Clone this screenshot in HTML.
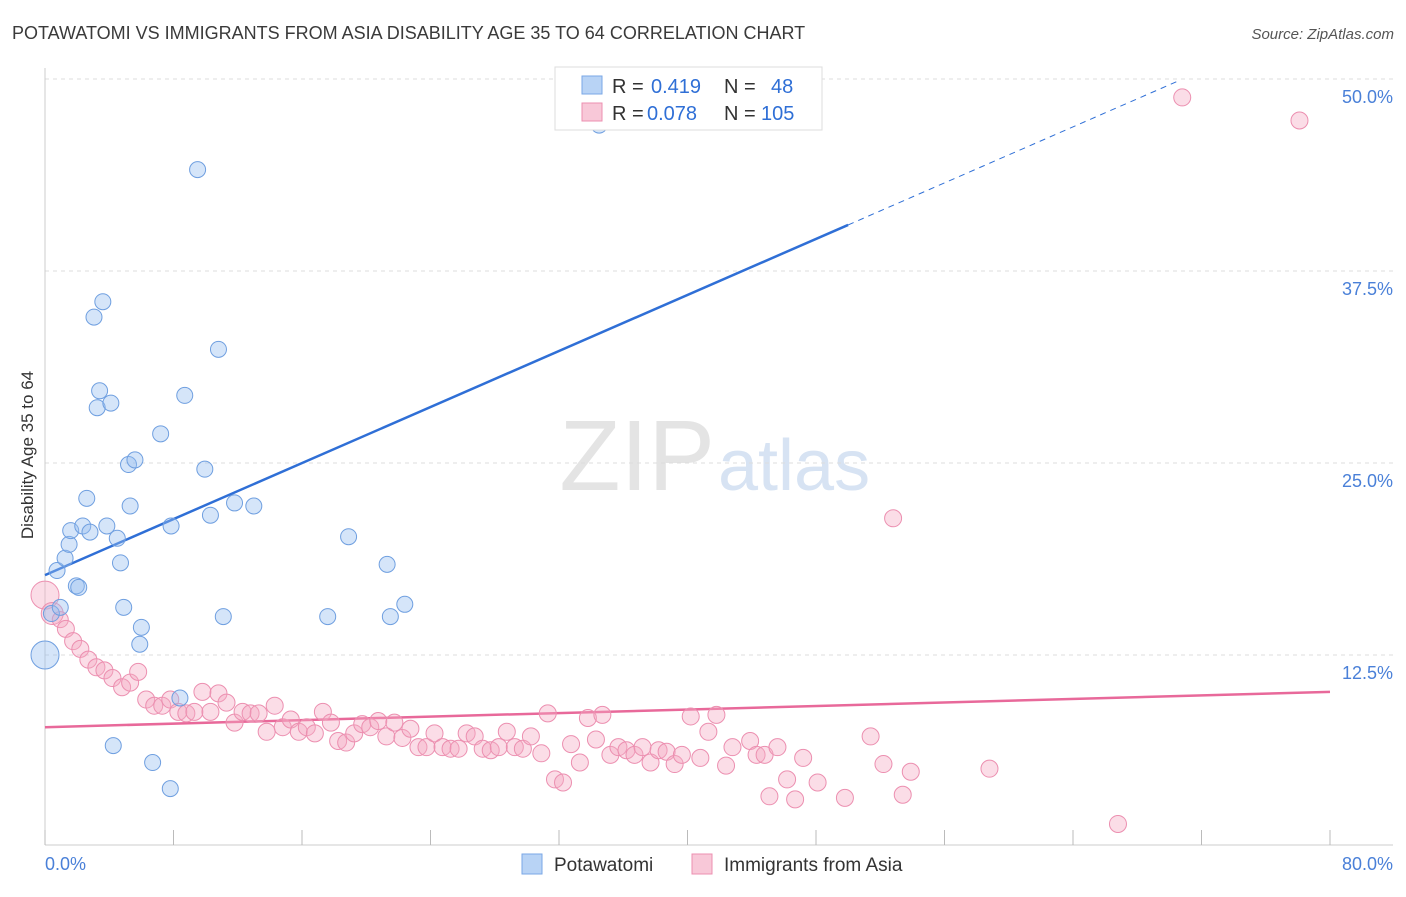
<!DOCTYPE html>
<html><head><meta charset="utf-8"><style>
body{margin:0;background:#fff;font-family:"Liberation Sans",sans-serif}
svg text{font-family:"Liberation Sans",sans-serif}
</style></head><body>
<svg width="1406" height="892" viewBox="0 0 1406 892">
<text x="12" y="39" font-size="18" fill="#3a3a3a">POTAWATOMI VS IMMIGRANTS FROM ASIA DISABILITY AGE 35 TO 64 CORRELATION CHART</text>
<text x="1394" y="39" font-size="15" fill="#555" text-anchor="end" font-style="italic">Source: ZipAtlas.com</text>
<text x="715" y="490" font-size="100" fill="#e4e4e4" text-anchor="end" font-family="Liberation Serif">ZIP</text>
<text x="718" y="490" font-size="72" fill="#d7e3f3">atlas</text>
<g id="grid"></g>
<g id="axes"></g>
<text x="33" y="455" font-size="17" fill="#333" text-anchor="middle" transform="rotate(-90 33 455)">Disability Age 35 to 64</text>
<g id="trend"></g>
<g id="pts"></g>
<g>
<rect x="555" y="67" width="267" height="63" fill="#fff" stroke="#ddd"/>
<rect x="582" y="76" width="20" height="18" fill="#b8d3f5" stroke="#7aa7e6"/>
<text x="612" y="93" font-size="20" fill="#333">R = </text><text x="651" y="93" font-size="20" fill="#2f6fd6">0.419</text>
<text x="724" y="93" font-size="20" fill="#333">N = </text><text x="771" y="93" font-size="20" fill="#2f6fd6">48</text>
<rect x="582" y="103" width="20" height="18" fill="#f8c8d8" stroke="#ec8fb0"/>
<text x="612" y="120" font-size="20" fill="#333">R = </text><text x="647" y="120" font-size="20" fill="#2f6fd6">0.078</text>
<text x="724" y="120" font-size="20" fill="#333">N = </text><text x="761" y="120" font-size="20" fill="#2f6fd6">105</text>
</g>
<g>
<rect x="522" y="854" width="20" height="20" fill="#b8d3f5" stroke="#7aa7e6"/>
<text x="554" y="871" font-size="19" fill="#333">Potawatomi</text>
<rect x="692" y="854" width="20" height="20" fill="#f8c8d8" stroke="#ec8fb0"/>
<text x="724" y="871" font-size="19" fill="#333">Immigrants from Asia</text>
</g>
</svg>
<script>
const blueX=[0,0.4,0.75,0.95,1.25,1.5,1.6,1.95,2.1,2.35,2.6,2.8,3.05,3.25,3.4,3.6,3.85,4.1,4.25,4.5,4.7,4.9,5.2,5.3,5.6,5.9,6.0,6.7,7.2,7.8,7.85,8.4,8.7,9.5,9.95,10.3,10.8,11.1,11.8,13.0,17.6,18.9,21.3,21.5,22.4,34.5,43.3];
const blueY=[12.5,15.2,18.0,15.6,18.8,19.7,20.6,17.0,16.9,20.9,22.7,20.5,34.5,28.6,29.7,35.5,20.9,28.9,6.6,20.1,18.5,15.6,24.9,22.2,25.2,13.2,14.3,5.5,26.9,3.8,20.9,9.7,29.4,44.1,24.6,21.6,32.4,15.0,22.4,22.2,15.0,20.2,18.4,15.0,15.8,47.0,48.0];
const pinkX=[0,0.45,0.95,1.3,1.75,2.2,2.7,3.2,3.7,4.2,4.8,5.3,5.8,6.3,6.8,7.3,7.8,8.3,8.8,9.3,9.8,10.3,10.8,11.3,11.8,12.3,12.8,13.3,13.8,14.3,14.8,15.3,15.8,16.3,16.8,17.3,17.8,18.25,18.75,19.25,19.75,20.25,20.75,21.25,21.75,22.25,22.75,23.25,23.75,24.25,24.75,25.25,25.75,26.25,26.75,27.25,27.75,28.25,28.75,29.25,29.75,30.25,30.9,31.3,31.75,32.25,32.75,33.3,33.8,34.3,34.7,35.2,35.7,36.2,36.7,37.2,37.7,38.2,38.7,39.2,39.65,40.2,40.8,41.3,41.8,42.4,42.8,43.9,44.3,44.8,45.1,45.6,46.2,46.7,47.2,48.1,49.8,51.4,52.2,52.8,53.4,53.9,58.8,66.8,70.8,78.1];
const pinkY=[16.4,15.2,14.8,14.2,13.4,12.9,12.2,11.7,11.5,11.0,10.4,10.7,11.4,9.6,9.2,9.2,9.6,8.8,8.7,8.8,10.1,8.8,10.0,9.4,8.1,8.8,8.7,8.7,7.5,9.2,7.8,8.3,7.5,7.8,7.4,8.8,8.1,6.9,6.8,7.4,8.0,7.8,8.2,7.2,8.1,7.1,7.7,6.5,6.5,7.4,6.5,6.4,6.4,7.4,7.2,6.4,6.3,6.5,7.5,6.5,6.4,7.2,6.1,8.7,4.4,4.2,6.7,5.5,8.4,7.0,8.6,6.0,6.5,6.3,6.0,6.5,5.5,6.3,6.2,5.4,6.0,8.5,5.8,7.5,8.6,5.3,6.5,6.9,6.0,6.0,3.3,6.5,4.4,3.1,5.8,4.2,3.2,7.2,5.4,21.4,3.4,4.9,5.1,1.5,48.8,47.3];
const NS='http://www.w3.org/2000/svg';
const X0=45,X1=1330,Y0=847,YT=79;
function sx(v){return X0+(v/80)*(X1-X0);}
function sy(v){return Y0-(v/50)*(Y0-YT);}
function mk(parent,tag,attrs){const e=document.createElementNS(NS,tag);for(const k in attrs)e.setAttribute(k,attrs[k]);document.getElementById(parent).appendChild(e);return e;}
const yTicks=[12.5,25,37.5,50];
const yTickLabels=['12.5%','25.0%','37.5%','50.0%'];
yTicks.forEach((t,i)=>{
 const l=mk('grid','line',{x1:45,x2:1393,y1:sy(t),y2:sy(t),stroke:'#ddd','stroke-dasharray':'4,4'});
 
 
 const tx=mk('grid','text',{x:1393,y:sy(t)+24,'font-size':18,fill:'#4a80d8','text-anchor':'end'});
 tx.textContent=yTickLabels[i];
 
 
});
mk('axes','line',{x1:45,x2:45,y1:68,y2:845,stroke:'#ccc'});
mk('axes','line',{x1:45,x2:1393,y1:845,y2:845,stroke:'#ccc'});
for(let i=0;i<=10;i++){const t=mk('axes','line',{x1:sx(i*8),x2:sx(i*8),y1:830,y2:845,stroke:'#bbb'});}
const xl=mk('axes','text',{x:45,y:870,'font-size':18,fill:'#4a80d8'});xl.textContent='0.0%';


const xr=mk('axes','text',{x:1393,y:870,'font-size':18,fill:'#4a80d8','text-anchor':'end'});xr.textContent='80.0%';


const bA=17.7,bB=(40.5-17.7)/50;
const b1=mk('trend','line',{x1:sx(0),y1:sy(bA),x2:sx(50),y2:sy(bA+bB*50),stroke:'#2f6fd6','stroke-width':2.5});


const b2=mk('trend','line',{x1:sx(50),y1:sy(bA+bB*50),x2:sx(70.6),y2:sy(bA+bB*70.6),stroke:'#2f6fd6','stroke-width':1,'stroke-dasharray':'6,5'});


const p1=mk('trend','line',{x1:sx(0),y1:sy(7.8),x2:sx(80),y2:sy(10.1),stroke:'#e8699a','stroke-width':2.5});


pinkX.forEach((x,i)=>{
 const c=mk('pts','circle',{cx:sx(x),cy:sy(pinkY[i]),r:i<3?14-i*3:8.5,fill:'rgba(245,170,195,0.4)',stroke:'#ec8fb0','stroke-width':1});
 
 
});
blueX.forEach((x,i)=>{
 const c=mk('pts','circle',{cx:sx(x),cy:sy(blueY[i]),r:i==0?14:8,fill:'rgba(150,190,240,0.4)',stroke:'#6f9fe0','stroke-width':1});
 
 
});
</script>
</body></html>
